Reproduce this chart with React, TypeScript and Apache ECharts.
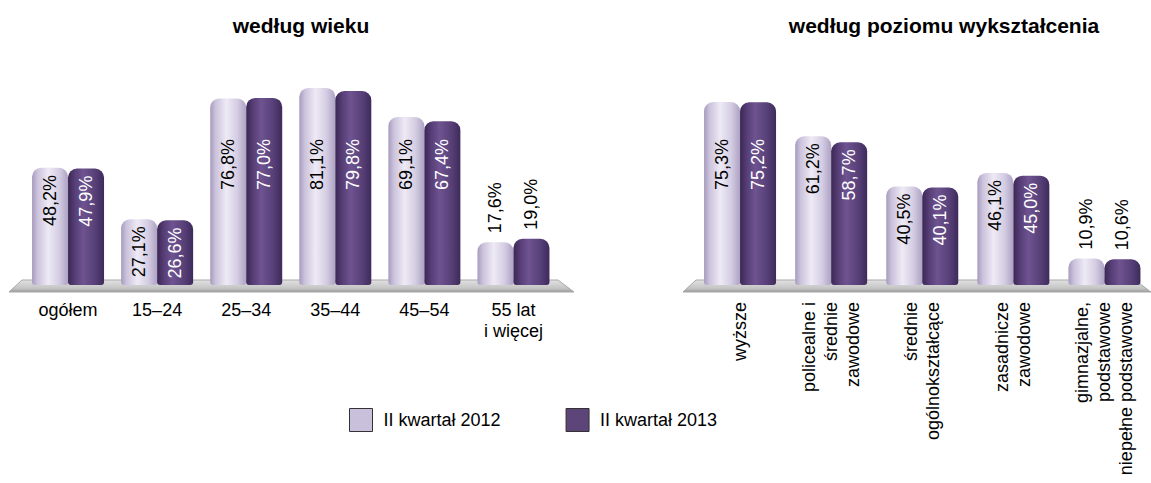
import React, { useEffect, useRef } from "react";
import * as echarts from "echarts";

const seriesNames = ["II kwartał 2012", "II kwartał 2013"];
const titles = ["według wieku", "według poziomu wykształcenia"];

const ageCategories = ["ogółem", "15–24", "25–34", "35–44", "45–54", "55 lat\ni więcej"];
const age2012 = [48.2, 27.1, 76.8, 81.1, 69.1, 17.6];
const age2013 = [47.9, 26.6, 77.0, 79.8, 67.4, 19.0];

const eduCategories = [
  "wyższe",
  "policealne i\nśrednie\nzawodowe",
  "średnie\nogólnokształcące",
  "zasadnicze\nzawodowe",
  "gimnazjalne,\npodstawowe\nniepełne podstawowe",
];
const edu2012 = [75.3, 61.2, 40.5, 46.1, 10.9];
const edu2013 = [75.2, 58.7, 40.1, 45.0, 10.6];

const FONT = "'Liberation Sans', Arial, Helvetica, sans-serif";
const LIGHT = "#c9c0dc";
const DARK = "#5d4479";

const fmt = (v: number) => v.toFixed(1).replace(".", ",") + "%";

const lightGrad = () =>
  new echarts.graphic.LinearGradient(0, 0, 1, 0, [
    { offset: 0, color: "#a69bbd" },
    { offset: 0.15, color: "#cbc2dc" },
    { offset: 0.45, color: "#eeeaf5" },
    { offset: 0.75, color: "#d5cde3" },
    { offset: 1, color: "#ada2c3" },
  ]);
const darkGrad = () =>
  new echarts.graphic.LinearGradient(0, 0, 1, 0, [
    { offset: 0, color: "#3b2755" },
    { offset: 0.2, color: "#583f77" },
    { offset: 0.42, color: "#6e5390" },
    { offset: 0.75, color: "#574078" },
    { offset: 1, color: "#3e2a5a" },
  ]);

function makeData(values: number[]) {
  return values.map((v) => {
    if (v < 20) {
      return {
        value: v,
        label: {
          position: "top",
          distance: 9,
          align: "left",
          verticalAlign: "middle",
          color: "#000",
        },
      };
    }
    return {
      value: v,
      label: { distance: Math.max(7, (v - 63) * 2.43 + 7) },
    };
  });
}

function makeSeries(name: string, values: number[], idx: number, light: boolean) {
  return {
    type: "bar",
    name,
    xAxisIndex: idx,
    yAxisIndex: idx,
    barWidth: 36,
    barGap: "0%",
    z: 3,
    itemStyle: {
      color: light ? lightGrad() : darkGrad(),
      borderRadius: [9, 9, 3, 3],
    },
    label: {
      show: true,
      position: "insideTop",
      rotate: 90,
      align: "right",
      verticalAlign: "middle",
      fontSize: 18,
      fontFamily: FONT,
      color: light ? "#000" : "#fff",
      formatter: (p: any) => fmt(p.value),
    },
    data: makeData(values),
  };
}

function floor(x0: number, x1: number) {
  return {
    type: "polygon",
    z: 0,
    shape: {
      points: [
        [x0 + 13, 280],
        [x1 - 16, 280],
        [x1, 292],
        [x0, 292],
      ],
    },
    style: {
      fill: new echarts.graphic.LinearGradient(0, 0, 0, 1, [
        { offset: 0, color: "#e2e2e2" },
        { offset: 0.7, color: "#c4c4c4" },
        { offset: 1, color: "#9a9a9a" },
      ]),
      stroke: "#a8a8a8",
      lineWidth: 1,
    },
  };
}

export default function App() {
  const ref = useRef<HTMLDivElement>(null);
  useEffect(() => {
    if (!ref.current) return;
    const chart = echarts.init(ref.current, null, { renderer: "svg" });
    const axisLabelBase = {
      fontSize: 18,
      fontFamily: FONT,
      color: "#000",
      interval: 0,
    };
    chart.setOption({
      animation: false,
      backgroundColor: "#fff",
      textStyle: { fontFamily: FONT },
      title: [
        {
          text: titles[0],
          left: 296,
          top: 10,
          textAlign: "center",
          textStyle: { fontSize: 21, fontWeight: "bold", color: "#000", fontFamily: FONT },
        },
        {
          text: titles[1],
          left: 939,
          top: 10,
          textAlign: "center",
          textStyle: { fontSize: 21, fontWeight: "bold", color: "#000", fontFamily: FONT },
        },
      ],
      legend: {
        left: 349,
        top: 408,
        padding: 0,
        itemWidth: 23,
        itemHeight: 23,
        itemGap: 65,
        icon: "rect",
        textStyle: { fontSize: 18, color: "#000", fontFamily: FONT, padding: [0, 0, 0, 6] },
        data: [
          { name: seriesNames[0], itemStyle: { color: LIGHT, borderColor: "#333", borderWidth: 1 } },
          { name: seriesNames[1], itemStyle: { color: DARK, borderColor: "#333", borderWidth: 1 } },
        ],
      },
      grid: [
        { left: 23.5, width: 534.5, top: 42, height: 243 },
        { left: 694.5, width: 455.5, top: 42, height: 243 },
      ],
      xAxis: [
        {
          type: "category",
          gridIndex: 0,
          data: ageCategories,
          axisLine: { show: false },
          axisTick: { show: false },
          axisLabel: { ...axisLabelBase, margin: 14, lineHeight: 21 },
        },
        {
          type: "category",
          gridIndex: 1,
          data: eduCategories,
          axisLine: { show: false },
          axisTick: { show: false },
          axisLabel: { ...axisLabelBase, rotate: 90, margin: 17, lineHeight: 22 },
        },
      ],
      yAxis: [
        { type: "value", gridIndex: 0, min: 0, max: 100, show: false, splitLine: { show: false } },
        { type: "value", gridIndex: 1, min: 0, max: 100, show: false, splitLine: { show: false } },
      ],
      graphic: [floor(9, 574), floor(683, 1151)],
      series: [
        makeSeries(seriesNames[0], age2012, 0, true),
        makeSeries(seriesNames[1], age2013, 0, false),
        makeSeries(seriesNames[0], edu2012, 1, true),
        makeSeries(seriesNames[1], edu2013, 1, false),
      ],
    });
    return () => chart.dispose();
  }, []);
  return (
    <div
      ref={ref}
      style={{ position: "fixed", left: 0, top: 0, width: 1151, height: 483, background: "#fff" }}
    />
  );
}
